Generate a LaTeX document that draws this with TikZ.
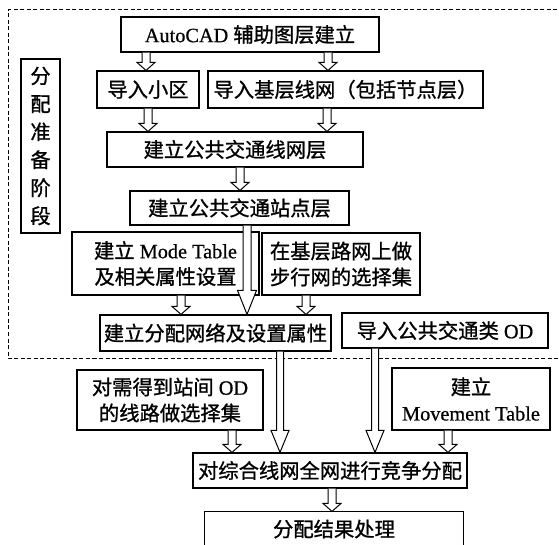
\documentclass[tikz,border=0pt]{standalone}
\usepackage{fontspec}
\setmainfont{Liberation Serif}[FakeBold=0.6]
\newfontfamily\cjk{Noto Sans CJK SC}[FakeBold=1]
\usetikzlibrary{calc}
\tikzset{
 box/.style={draw, line width=1.2pt, inner sep=0pt, align=center, font=\fontsize{20.3}{26}\selectfont},
 arrowline/.style={draw, line width=1pt, fill=white, line join=miter},
 frame/.style={dash pattern=on 4pt off 2.5pt, line width=1pt}
}
\newcommand\bx[6]{\node[box, minimum width={(#4-#2)*1pt}, minimum height={(#5-#3)*1pt}] (#1) at ({(#2+#4)/2},{(#3+#5)/2}) {#6};}
\newcommand\harrow[6]{\draw[arrowline] let \p1=(#1.south), \p2=(#2.north), \p3=(#3,0) in (\x3-#4pt,\y1) -- (\x3-#4pt,\y2+#6pt) -- (\x3-#5pt,\y2+#6pt) -- (\x3,\y2) -- (\x3+#5pt,\y2+#6pt) -- (\x3+#4pt,\y2+#6pt) -- (\x3+#4pt,\y1);}
\begin{document}
\begin{tikzpicture}[x=1pt,y=-1pt]
\clip (0,0) rectangle (559,545);
\fill[white] (0,0) rectangle (559,545);
% dashed frame of the preparation stage
\coordinate (fr1) at (570,10);
\coordinate (fr2) at (8,10);
\coordinate (fr3) at (8,358);
\coordinate (fr4) at (570,358);
\draw[frame] (fr1) -- (fr2) -- (fr3) -- (fr4);
% boxes
\bx{n1}{121}{17}{379}{52}{AutoCAD {\cjk 辅助图层建立}}
\bx{n2}{97}{71}{199}{108}{{\cjk 导入小区}}
\bx{n3}{208}{71}{483}{108}{{\cjk 导入基层线网（包括节点层）}}
\bx{n4}{107}{132}{363}{167}{{\cjk 建立公共交通线网层}}
\node[box, minimum width=39pt, minimum height=174pt, font=\fontsize{20.3}{28}\selectfont] (n5) at (40.5,146) {{\cjk 分}\\{\cjk 配}\\{\cjk 准}\\{\cjk 备}\\{\cjk 阶}\\{\cjk 段}};
\bx{n6}{130}{191}{349}{225}{{\cjk 建立公共交通站点层}}
\bx{n7}{72}{232}{259}{295}{{\cjk 建立} Mode Table\\{\cjk 及相关属性设置}}
\bx{n8}{262}{233}{420}{295}{{\cjk 在基层路网上做}\\{\cjk 步行网的选择集}}
\bx{n9}{100}{315}{331}{351}{{\cjk 建立分配网络及设置属性}}
\bx{n10}{342}{313}{548}{348}{{\cjk 导入公共交通类} OD}
\bx{n11}{77}{370}{263}{430}{{\cjk 对需得到站间} OD\\{\cjk 的线路做选择集}}
\bx{n12}{392}{368}{550}{430}{{\cjk 建立}\\Movement Table}
\bx{n13}{193}{453}{467}{488}{{\cjk 对综合线网全网进行竞争分配}}
\node[box, draw=none, minimum width=258pt, minimum height=34pt] (n14) at (334,529) {{\cjk 分配结果处理}};
\draw[line width=1.2pt] (n14.south west) -- (n14.north west) -- (n14.north east) -- (n14.south east);
% hollow arrows
\harrow{n1}{n2}{146}{4}{9}{8}
\harrow{n1}{n3}{328}{4}{9}{8}
\harrow{n2}{n4}{148}{4}{9}{8}
\harrow{n3}{n4}{327}{4}{9}{8}
\harrow{n4}{n6}{240}{4}{9}{8}
\harrow{n6}{n9}{247}{4}{9.5}{24}
\harrow{n7}{n9}{181}{4}{9}{8}
\harrow{n8}{n9}{306}{4}{9}{8}
\harrow{n9}{n13}{280}{3.5}{9}{22}
\harrow{n10}{n13}{375}{3.5}{9}{22}
\harrow{n11}{n13}{232}{4}{9}{8}
\harrow{n12}{n13}{448}{4}{9}{8}
\harrow{n13}{n14}{332}{4}{9}{8}
\end{tikzpicture}
\end{document}
